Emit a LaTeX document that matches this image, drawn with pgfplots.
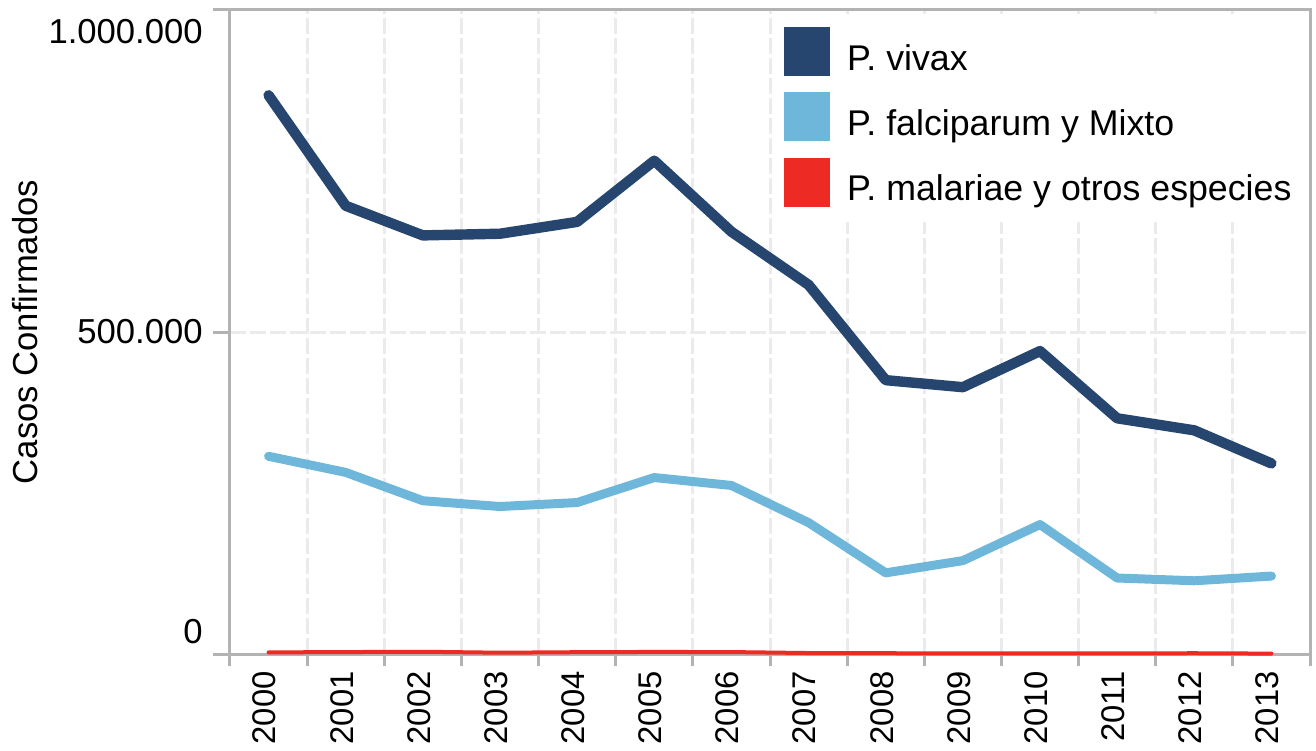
\documentclass[border=0pt]{standalone}
\usepackage{fontspec}
\setmainfont{Liberation Sans}
\usepackage{pgfplots}
\pgfplotsset{compat=1.18}
\definecolor{vivax}{HTML}{26466F}
\definecolor{falci}{HTML}{6FB7DA}
\definecolor{malar}{HTML}{EE2A24}
\definecolor{axgrey}{HTML}{B3B3B3}
\definecolor{gridgrey}{HTML}{EBEBEB}
\begin{document}
\fontsize{26}{31}\selectfont
\begin{tikzpicture}
\useasboundingbox (-172.5pt,-72pt) rectangle (814.5pt,490.5pt);
\begin{axis}[
  at={(0,0)}, anchor=south west,
  scale only axis, width=810pt, height=483pt,
  xmin=-0.5, xmax=13.5, ymin=0, ymax=1000000,
  clip=false,
  axis line style={axgrey, line width=2.25pt},
  tick align=outside,
  xtick pos=bottom, ytick pos=left,
  xtick={0,1,2,3,4,5,6,7,8,9,10,11,12,13},
  xticklabels={2000,2001,2002,2003,2004,2005,2006,2007,2008,2009,2010,2011,2012,2013},
  major x tick style={draw=none},
  minor xtick={-0.5,0.5,1.5,2.5,3.5,4.5,5.5,6.5,7.5,8.5,9.5,10.5,11.5,12.5,13.5},
  minor x tick style={axgrey, line width=2.25pt},
  minor tick length=9pt,
  major tick length=12.75pt,
  major y tick style={axgrey, line width=2.25pt},
  xminorgrids,
  minor x grid style={gridgrey, line width=2.25pt, dash pattern=on 12pt off 3pt},
  ymajorgrids,
  major y grid style={gridgrey, line width=2.25pt, dash pattern=on 12pt off 3pt},
  ytick={0,500000,1000000},
  yticklabels={\raisebox{16.5pt}[\height][\depth]{0},500.000,\raisebox{-16.5pt}[\height][\depth]{1.000.000}},
  yticklabel style={inner sep=0pt, xshift=-7.5pt, font=\fontsize{26}{31}\selectfont},
  xticklabel style={rotate=90, anchor=east, inner sep=0pt, yshift=3pt, font=\fontsize{24.6}{29}\selectfont},
  ylabel={Casos Confirmados},
  ylabel style={at={(axis description cs:-0.1898,0.5)}, anchor=center, font=\fontsize{26}{31}\selectfont},
  legend cell align=left,
  legend style={at={(rel axis cs:0.5046,0.9938)}, anchor=north west, fill=white, draw=none,
    inner xsep=6.75pt, inner ysep=9.75pt, row sep=10.5pt, column sep=12.75pt,
    font=\fontsize{26.8}{32}\selectfont,
    nodes={inner xsep=0pt, inner ysep=0pt, text height=20pt, text depth=6pt}},
  legend image code/.code={\fill[draw=none] (0pt,-11.4pt) rectangle (34.5pt,25.35pt);},
  every axis plot/.append style={line cap=round, line join=round},
]
\addplot[vivax, line width=7.8pt] coordinates {
(0,867600) (1,696000) (2,650000) (3,652600) (4,671000) (5,766000) (6,655700)
(7,573200) (8,425200) (9,414300) (10,470400) (11,366000) (12,347300) (13,295900)};
\addlegendentry{P. vivax}
\addplot[falci, line width=6.75pt] coordinates {
(0,307000) (1,282000) (2,238000) (3,229000) (4,235200) (5,274000) (6,261700)
(7,204000) (8,126000) (9,145000) (10,201000) (11,118000) (12,113700) (13,121000)};
\addlegendentry{P. falciparum y Mixto}
\addplot[malar, line width=3pt] coordinates {
(0,2500) (1,3000) (2,3500) (3,2000) (4,2800) (5,3200) (6,3000)
(7,1500) (8,1200) (9,1000) (10,1100) (11,900) (12,1200) (13,600)};
\addlegendentry{P. malariae y otros especies}
\end{axis}
\end{tikzpicture}
\end{document}
